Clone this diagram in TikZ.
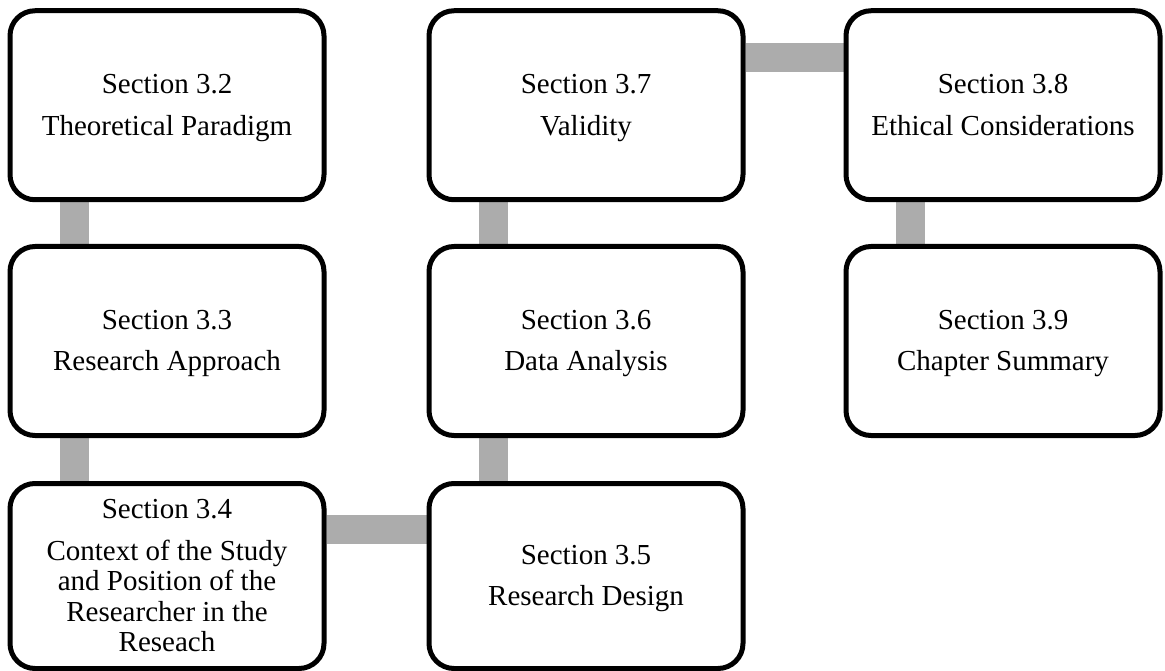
\documentclass[tikz,border=0pt]{standalone}
\usepackage{fontspec}
\setmainfont{Liberation Serif}
\usetikzlibrary{backgrounds}
% tall first-line strut: sets the text a little below the box centre
\newcommand\secstrut{\rule{0pt}{27.5pt}}
\begin{document}
\begin{tikzpicture}[x=1pt,y=-1pt,
  secbox/.style={draw=black, fill=white, line width=5pt, rounded corners=25pt,
    minimum width=314pt, minimum height=189pt, inner sep=0pt, align=center,
    font=\fontsize{29}{30.5}\selectfont},
  link/.style={draw=gray!65, line width=29pt}]
\useasboundingbox (0,0) rectangle (1165,671);

% section boxes, three columns by three rows
\node[secbox] (s32) at (167,105.25) {\secstrut Section 3.2\\[11pt]Theoretical Paradigm\strut};
\node[secbox] (s33) at (167,341) {\secstrut Section 3.3\\[11pt]Research Approach\strut};
\node[secbox, minimum height=185pt] (s34) at (167,576) {\secstrut Section 3.4\\[11pt]Context of the Study\\and Position of the\\Researcher in the\\Reseach\strut};
\node[secbox, minimum height=185pt] (s35) at (586,576) {\secstrut Section 3.5\\[11pt]Research Design\strut};
\node[secbox] (s36) at (586,341) {\secstrut Section 3.6\\[11pt]Data Analysis\strut};
\node[secbox] (s37) at (586,105.25) {\secstrut Section 3.7\\[11pt]Validity\strut};
\node[secbox] (s38) at (1003,105.25) {\secstrut Section 3.8\\[11pt]Ethical Considerations\strut};
\node[secbox] (s39) at (1003,341) {\secstrut Section 3.9\\[11pt]Chapter Summary\strut};

% grey links behind the boxes
\begin{scope}[on background layer]
  \draw[link] ([xshift=-93pt]s32.south) -- ([xshift=-93pt]s33.north);
  \draw[link] ([xshift=-93pt]s33.south) -- ([xshift=-93pt]s34.north);
  \draw[link] ([yshift=47pt]s34.east) -- ([yshift=47pt]s35.west);
  \draw[link] ([xshift=-93pt]s35.north) -- ([xshift=-93pt]s36.south);
  \draw[link] ([xshift=-93pt]s36.north) -- ([xshift=-93pt]s37.south);
  \draw[link] ([yshift=48pt]s37.east) -- ([yshift=48pt]s38.west);
  \draw[link] ([xshift=-93pt]s38.south) -- ([xshift=-93pt]s39.north);
\end{scope}
\end{tikzpicture}
\end{document}
